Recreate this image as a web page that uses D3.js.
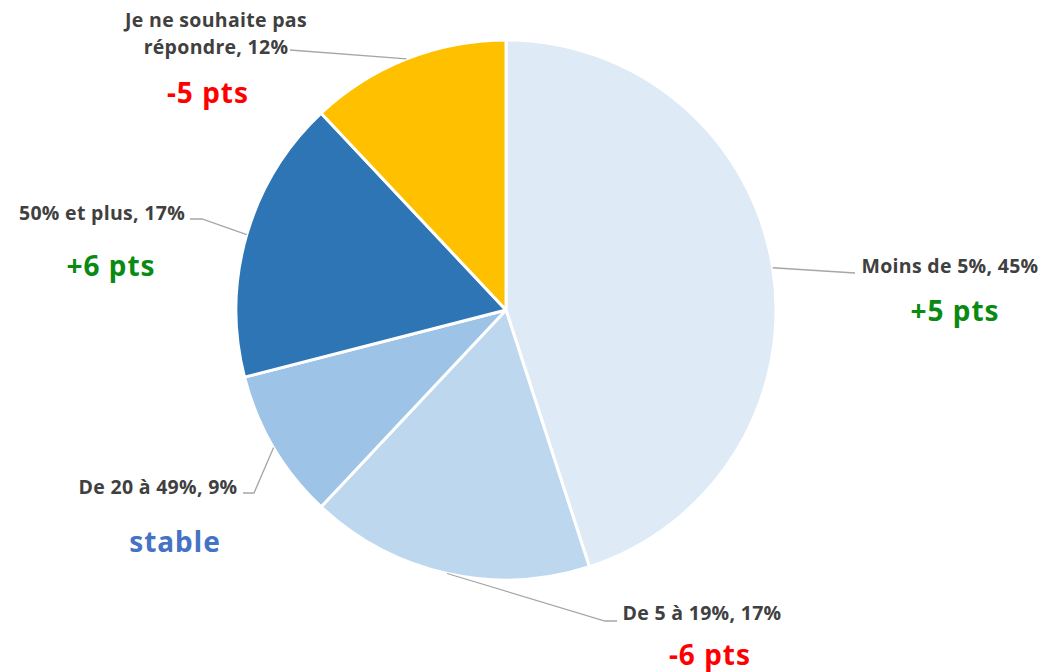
<!DOCTYPE html>
<html>
<head>
<meta charset="utf-8">
<script src="https://cdn.jsdelivr.net/npm/d3@7"></script>
<style>
  body { margin: 0; background: #fff; }
</style>
</head>
<body>
<div id="chart"></div>
<script>
const categories = ['Moins de 5%', 'De 5 à 19%', 'De 20 à 49%', '50% et plus', 'Je ne souhaite pas répondre'];
const values = [45, 17, 9, 17, 12];
const changes = ['+5 pts', '-6 pts', 'stable', '+6 pts', '-5 pts'];

const colors = ['#deeaf6', '#bdd7ee', '#9dc3e6', '#2e75b6', '#ffc000'];
const changeColor = t => t.startsWith('+') ? '#0a8a12' : t.startsWith('-') ? '#ff0000' : '#4472c4';

const width = 1041;
const height = 672;
const cx = 506, cy = 310, r = 270;

// label layout: text centre, leader line elbow/end, change text centre
const layout = [
  { lines: ['Moins de 5%, 45%'], x: 950, y: 273, elbow: [855, 273], end: [855, 273], cx: 955, cy: 321 },
  { lines: ['De 5 à 19%, 17%'], x: 702, y: 620, elbow: [605, 621], end: [617, 621], cx: 710, cy: 665 },
  { lines: ['De 20 à 49%, 9%'], x: 158, y: 494, elbow: [254, 493], end: [243, 493], cx: 175, cy: 552 },
  { lines: ['50% et plus, 17%'], x: 102, y: 220, elbow: [202, 219], end: [190, 219], cx: 111, cy: 276 },
  { lines: ['Je ne souhaite pas', 'répondre, 12%'], x: 216, y: 27, elbow: [290, 50], end: [290, 50], cx: 208, cy: 103 }
];

const svg = d3.select('#chart')
  .append('svg')
  .attr('width', width)
  .attr('height', height);

const pie = d3.pie().sort(null).value(d => d)
  .startAngle(0).endAngle(2 * Math.PI);
const arcs = pie(values);

const arc = d3.arc().innerRadius(0).outerRadius(r);

const g = svg.append('g').attr('transform', `translate(${cx},${cy})`);

g.selectAll('path')
  .data(arcs)
  .join('path')
    .attr('d', arc)
    .attr('fill', (d, i) => colors[i])
    .attr('stroke', '#fff')
    .attr('stroke-width', 3)
    .attr('stroke-linejoin', 'round');

// leader lines
arcs.forEach((d, i) => {
  const a = (d.startAngle + d.endAngle) / 2;
  const p0 = [cx + r * Math.sin(a), cy - r * Math.cos(a)];
  const L = layout[i];
  svg.append('polyline')
    .attr('points', [p0, L.elbow, L.end].map(p => p.join(',')).join(' '))
    .attr('fill', 'none')
    .attr('stroke', '#a6a6a6')
    .attr('stroke-width', 1.3);
});

// category labels
layout.forEach((L, i) => {
  const t = svg.append('text')
    .attr('x', L.x)
    .attr('y', L.y)
    .attr('text-anchor', 'middle')
    .attr('font-family', '"Open Sans", sans-serif')
    .attr('font-weight', 'bold')
    .attr('font-size', '19.5px')
    .attr('letter-spacing', '0.3px')
    .attr('fill', '#404040');
  L.lines.forEach((line, j) => {
    t.append('tspan')
      .attr('x', L.x)
      .attr('dy', j === 0 ? 0 : 27)
      .text(j === L.lines.length - 1 ? line.replace(/, \d+%$/, '') + ', ' + values[i] + '%' : line);
  });

  svg.append('text')
    .attr('x', L.cx)
    .attr('y', L.cy)
    .attr('text-anchor', 'middle')
    .attr('font-family', '"Noto Sans", "Open Sans", sans-serif')
    .attr('font-weight', 700)
    .attr('font-size', '28px')
    .attr('letter-spacing', '1px')
    .attr('fill', changeColor(changes[i]))
    .text(changes[i]);
});
</script>
</body>
</html>
